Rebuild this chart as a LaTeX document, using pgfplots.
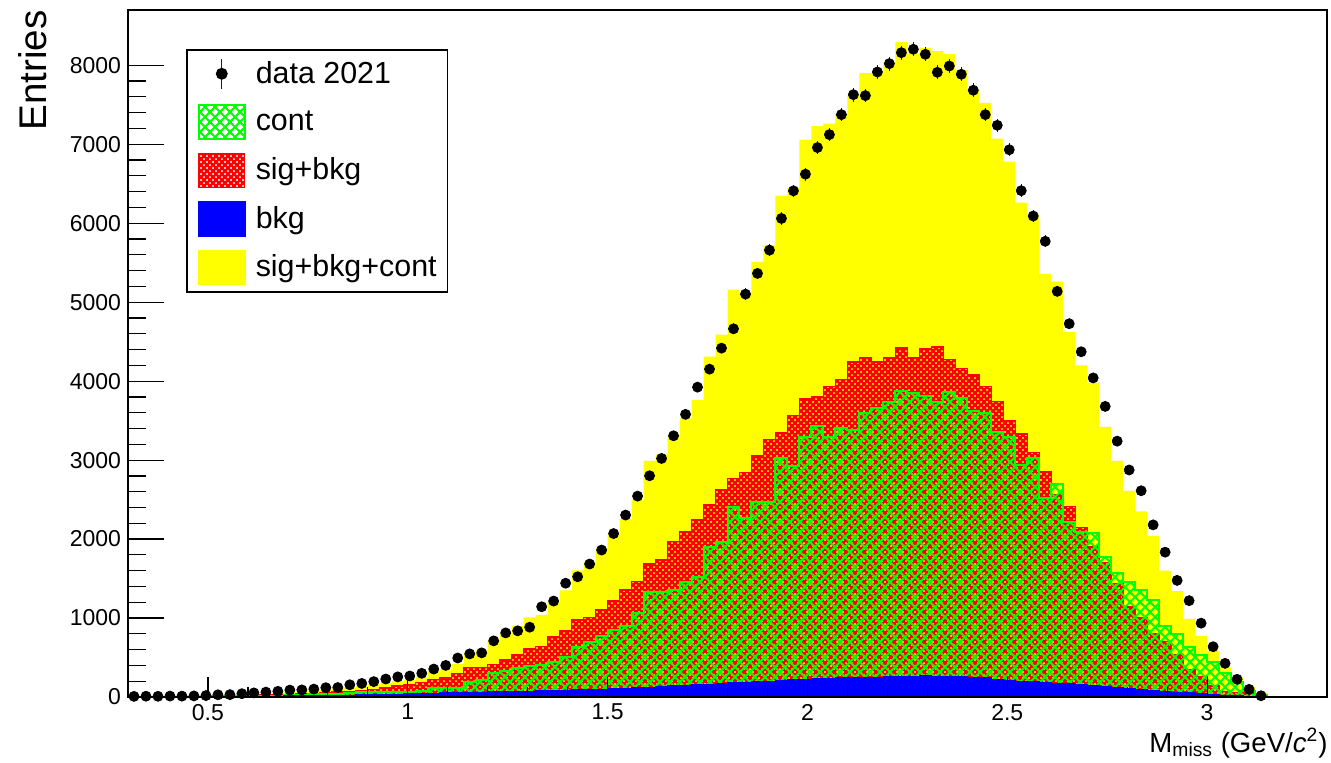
\documentclass[border=0pt]{standalone}
\usepackage{fontspec}
\setmainfont{Liberation Sans}
\usepackage{pgfplots}
\usepackage{pgfplotstable}
\pgfplotsset{compat=1.18}
\usetikzlibrary{patterns}
\definecolor{ryellow}{RGB}{255,255,0}
\definecolor{rred}{RGB}{255,0,0}
\definecolor{rgreen}{RGB}{0,255,0}
\definecolor{rblue}{RGB}{0,0,255}

\pgfdeclarepatternformonly{redhatch}{\pgfqpoint{-1pt}{-1pt}}{\pgfqpoint{4pt}{4pt}}{\pgfqpoint{3pt}{3pt}}{%
  \pgfsetlinewidth{1.1pt}%
  \pgfpathmoveto{\pgfqpoint{-1pt}{-1pt}}\pgfpathlineto{\pgfqpoint{4pt}{4pt}}%
  \pgfpathmoveto{\pgfqpoint{-1pt}{4pt}}\pgfpathlineto{\pgfqpoint{4pt}{-1pt}}%
  \pgfusepath{stroke}}
\pgfdeclarepatternformonly{greenhatch}{\pgfqpoint{-1pt}{-1pt}}{\pgfqpoint{6pt}{6pt}}{\pgfqpoint{5pt}{5pt}}{%
  \pgfsetlinewidth{0.9pt}%
  \pgfpathmoveto{\pgfqpoint{-1pt}{-1pt}}\pgfpathlineto{\pgfqpoint{6pt}{6pt}}%
  \pgfpathmoveto{\pgfqpoint{-1pt}{6pt}}\pgfpathlineto{\pgfqpoint{6pt}{-1pt}}%
  \pgfusepath{stroke}}

\pgfplotstableread{
x Y R G B
0.30 2 1 1 0
0.33 3 1 2 0
0.36 4 2 2 0
0.39 5 3 2 0
0.42 7 4 3 0
0.45 9 5 4 1
0.48 12 7 5 2
0.51 16 9 7 3
0.54 20 12 8 4
0.57 26 16 10 5
0.60 33 20 13 6
0.63 40 24 16 8
0.66 48 29 19 10
0.69 58 35 23 12
0.72 68 41 27 14
0.75 80 48 32 16
0.78 92 55 37 18
0.81 106 63 43 20
0.84 122 72 50 23
0.87 140 82 58 26
0.90 160 94 66 30
0.93 180 120 60 33
0.96 200 140 60 36
0.99 215 150 65 40
1.02 250 180 70 43
1.05 330 220 110 46
1.08 350 240 110 50
1.11 420 300 120 53
1.14 560 370 190 56
1.17 590 376 214 60
1.20 720 414 310 63
1.23 800 470 330 66
1.26 900 532 370 70
1.29 1010 616 392 72
1.32 1040 640 400 76
1.35 1200 764 440 80
1.38 1350 840 510 84
1.41 1604 975 629 88
1.44 1709 1009 700 92
1.47 1882 1110 772 97
1.50 2067 1219 848 105
1.53 2254 1354 900 112
1.56 2500 1460 1059 118
1.59 2990 1684 1325 125
1.62 3070 1734 1325 130
1.65 3320 1966 1360 140
1.68 3530 2092 1460 148
1.71 3760 2249 1515 155
1.74 4310 2430 1895 162
1.77 4590 2620 1966 170
1.80 5160 2768 2409 180
1.83 5120 2844 2262 188
1.86 5510 3051 2472 195
1.89 5720 3262 2472 200
1.92 6350 3346 3021 205
1.95 6450 3562 2924 215
1.98 7059 3775 3287 224
2.01 7229 3802 3430 228
2.04 7260 3929 3295 235
2.07 7380 4022 3401 240
2.10 7620 4245 3380 245
2.13 7900 4296 3591 240
2.16 7905 4245 3654 250
2.19 8040 4300 3740 255
2.22 8296 4422 3877 260
2.25 8150 4300 3850 262
2.28 8220 4405 3810 265
2.31 8180 4434 3738 262
2.34 8140 4275 3865 258
2.37 7940 4161 3781 255
2.40 7700 4080 3620 248
2.43 7525 3929 3591 240
2.46 7070 3740 3357 225
2.49 6780 3498 3295 210
2.52 6260 3331 2937 200
2.55 6100 3098 3021 192
2.58 5360 2857 2515 185
2.61 5260 2557 2696 175
2.64 4620 2409 2219 165
2.67 4200 2143 2092 152
2.70 3980 1900 2080 140
2.73 3420 1700 1768 128
2.76 2990 1439 1566 118
2.79 2610 1143 1460 105
2.82 2350 1009 1354 95
2.85 2040 806 1228 85
2.88 1600 700 900 72
2.91 1340 540 800 62
2.94 990 342 637 52
2.97 770 257 532 42
3.00 586 139 447 33
3.03 376 68 308 24
3.06 249 55 194 16
3.09 130 50 80 10
3.12 50 25 25 5
3.15 10 5 5 2
3.18 2 1 1 0
3.21 0 0 0 0
3.24 0 0 0 0
3.27 0 0 0 0
3.30 0 0 0 0
}\hist

\pgfplotstableread{
xc D
0.315 8
0.345 10
0.375 9
0.405 12
0.435 11
0.465 14
0.495 18
0.525 28
0.555 30
0.585 42
0.615 52
0.645 62
0.675 72
0.705 88
0.735 90
0.765 100
0.795 118
0.825 120
0.855 155
0.885 172
0.915 195
0.945 228
0.975 255
1.005 266
1.035 300
1.065 354
1.095 400
1.125 494
1.155 546
1.185 559
1.215 711
1.245 812
1.275 838
1.305 884
1.335 1143
1.365 1215
1.395 1441
1.425 1523
1.455 1684
1.485 1861
1.515 2070
1.545 2304
1.575 2544
1.605 2802
1.635 3021
1.665 3308
1.695 3579
1.725 3924
1.755 4152
1.785 4418
1.815 4663
1.845 5102
1.875 5364
1.905 5659
1.935 6060
1.965 6410
1.995 6621
2.025 6958
2.055 7122
2.085 7375
2.115 7628
2.145 7616
2.175 7915
2.205 8021
2.235 8160
2.265 8203
2.295 8139
2.325 7911
2.355 7991
2.385 7886
2.415 7684
2.445 7375
2.475 7240
2.505 6930
2.535 6412
2.565 6091
2.595 5771
2.625 5137
2.655 4727
2.685 4372
2.715 4041
2.745 3680
2.775 3240
2.805 2875
2.835 2612
2.865 2180
2.895 1834
2.925 1477
2.955 1220
2.985 935
3.015 637
3.045 426
3.075 224
3.105 97
3.135 16
}\data

\begin{document}
\begin{tikzpicture}
\path[use as bounding box] (-64pt,-32.5pt) rectangle (601.5pt,348.5pt);
\begin{axis}[
  at={(0,0)}, anchor=south west,
  scale only axis, width=599.5pt, height=343.5pt,
  xmin=0.3, xmax=3.3, ymin=0, ymax=8700,
  axis line style={line width=0.7pt},
  xtick={0.5,1,1.5,2,2.5,3}, minor x tick num=4,
  ytick={0,1000,2000,3000,4000,5000,6000,7000,8000}, minor y tick num=4,
  scaled y ticks=false,
  tick align=inside, xtick pos=left, ytick pos=left,
  xtick style={line width=0.6pt, black, /pgfplots/major tick length=10pt, /pgfplots/minor tick length=5pt},
  ytick style={line width=0.6pt, black, /pgfplots/major tick length=18pt, /pgfplots/minor tick length=9pt},
  ticklabel style={font=\fontsize{11.5}{13}\selectfont},
  /pgf/number format/assume math mode=true,
  yticklabel style={/pgf/number format/1000 sep={}},
  axis on top,
  legend cell align=left,
  legend style={at={(0.0484,0.9432)}, anchor=north west, draw=black, line width=0.75pt,
    inner xsep=5.5pt, inner ysep=3.5pt, row sep=6.5pt, column sep=5pt,
    font=\fontsize{15.2}{18}\selectfont, nodes={inner sep=0pt}},
]
\addlegendimage{legend image code/.code={\path[draw=none,fill=none] (0pt,-8.5pt) rectangle (23pt,8.5pt); \draw[rblue,line width=0.6pt] (11.5pt,-7.5pt)--(11.5pt,7.5pt); \fill[black] (11.5pt,0pt) circle (2.6pt);}}
\addlegendentry{data 2021}
\addlegendimage{legend image code/.code={\draw[draw=rgreen,line width=1pt,pattern=greenhatch,pattern color=rgreen] (0pt,-8.5pt) rectangle (23pt,8.5pt);}}
\addlegendentry{cont}
\addlegendimage{legend image code/.code={\draw[draw=rred,line width=0.7pt,pattern=redhatch,pattern color=rred] (0pt,-8.5pt) rectangle (23pt,8.5pt);}}
\addlegendentry{sig+bkg}
\addlegendimage{legend image code/.code={\fill[rblue] (0pt,-8.5pt) rectangle (23pt,8.5pt);}}
\addlegendentry{bkg}
\addlegendimage{legend image code/.code={\fill[ryellow] (0pt,-8.5pt) rectangle (23pt,8.5pt);}}
\addlegendentry{sig+bkg+cont}

\addplot[const plot mark left, fill=ryellow, draw=none, forget plot] table[x=x,y=Y]{\hist} \closedcycle;
\addplot[const plot mark left, draw=rred, line width=0.7pt, pattern=redhatch, pattern color=rred, forget plot] table[x=x,y=R]{\hist} \closedcycle;
\addplot[const plot mark left, draw=rgreen, line width=1pt, pattern=greenhatch, pattern color=rgreen, forget plot] table[x=x,y=G]{\hist} \closedcycle;
\addplot[const plot mark left, fill=rblue, draw=rblue, line width=0.6pt, forget plot] table[x=x,y=B]{\hist} \closedcycle;
\addplot[only marks, mark=*, mark size=2.5pt, black, mark options={fill=black}, forget plot,
  error bars/.cd, y dir=both, y explicit, error bar style={rblue, line width=0.5pt}, error mark=none]
  table[x=xc, y=D, y error expr=sqrt(\thisrow{D})]{\data};
\end{axis}
\node[rotate=90, anchor=base east, inner sep=0pt, font=\fontsize{19.3}{22}\selectfont] at (-40.5pt,343.5pt) {Entries};
\node[anchor=base east, inner sep=0pt, font=\fontsize{13.8}{16}\selectfont] at (600pt,-27.5pt) {M\textsubscript{miss} (GeV/\textit{c}\textsuperscript{2})};
\end{tikzpicture}
\end{document}
